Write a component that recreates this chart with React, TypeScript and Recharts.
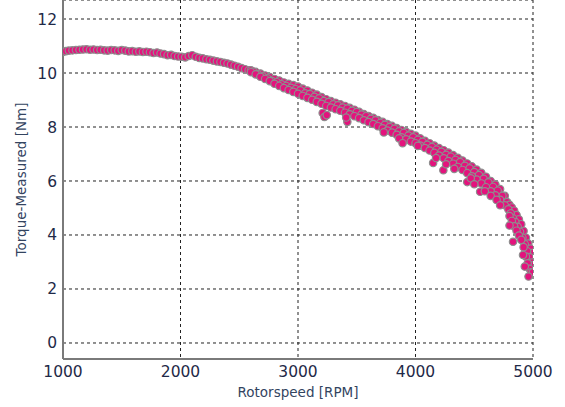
import React from 'react';
import { ScatterChart, Scatter, XAxis, YAxis, CartesianGrid } from 'recharts';

// Low-speed run (single row of measurements)
const lowSpeedRun: [number, number][] = [
  [1000, 10.78], [1025, 10.81], [1050, 10.83], [1080, 10.84], [1110, 10.85], [1140, 10.86],
  [1170, 10.87], [1200, 10.88], [1230, 10.86], [1260, 10.87], [1290, 10.85], [1320, 10.86],
  [1350, 10.84], [1380, 10.83], [1410, 10.85], [1440, 10.84], [1470, 10.82], [1500, 10.85],
  [1530, 10.83], [1560, 10.80], [1590, 10.81], [1620, 10.79], [1650, 10.80], [1680, 10.78],
  [1710, 10.79], [1740, 10.77], [1770, 10.74], [1800, 10.76], [1830, 10.72], [1860, 10.70],
  [1890, 10.66], [1920, 10.67], [1950, 10.63], [1980, 10.61], [2010, 10.60], [2040, 10.58],
  [2070, 10.63], [2100, 10.66], [2130, 10.60], [2160, 10.56], [2190, 10.54], [2220, 10.51],
  [2250, 10.49], [2280, 10.46], [2310, 10.43], [2340, 10.41], [2370, 10.38], [2400, 10.35],
  [2430, 10.31], [2460, 10.27], [2490, 10.23], [2520, 10.18], [2550, 10.14], [2580, 10.10],
];

// Dense band: rpm grid with upper and lower edge of the measurement cloud
const bandRpm = [
  2600, 2640, 2680, 2720, 2760, 2800, 2840, 2880, 2920, 2960, 3000, 3040, 3080, 3120,
  3160, 3200, 3240, 3280, 3320, 3360, 3400, 3440, 3480, 3520, 3560, 3600, 3640, 3680,
  3720, 3760, 3800, 3840, 3880, 3920, 3960, 4000, 4040, 4080, 4120, 4160, 4200, 4240,
  4280, 4320, 4360, 4400, 4440, 4480, 4520, 4560, 4600, 4640, 4680, 4720, 4760,
];
const bandUpper = [
  10.10, 10.04, 9.98, 9.91, 9.85, 9.78, 9.72, 9.65, 9.60, 9.55, 9.50, 9.42, 9.35, 9.27,
  9.20, 9.11, 9.03, 8.96, 8.90, 8.84, 8.78, 8.71, 8.64, 8.56, 8.48, 8.41, 8.34, 8.26,
  8.19, 8.11, 8.04, 7.96, 7.89, 7.82, 7.75, 7.68, 7.58, 7.49, 7.40, 7.31, 7.22, 7.14,
  7.05, 6.96, 6.86, 6.76, 6.65, 6.54, 6.42, 6.30, 6.16, 6.00, 5.87, 5.70, 5.45,
];
const bandLower = [
  10.03, 9.95, 9.86, 9.78, 9.70, 9.60, 9.52, 9.44, 9.37, 9.30, 9.23, 9.15, 9.08, 9.01,
  8.93, 8.86, 8.78, 8.72, 8.66, 8.60, 8.53, 8.47, 8.40, 8.33, 8.25, 8.18, 8.11, 8.03,
  7.95, 7.87, 7.79, 7.71, 7.62, 7.54, 7.46, 7.40, 7.31, 7.22, 7.13, 7.04, 6.94, 6.84,
  6.74, 6.64, 6.52, 6.41, 6.29, 6.17, 6.05, 5.91, 5.77, 5.62, 5.47, 5.30, 5.10,
];
// Middle of the cloud, sampled between the grid speeds
const bandMidRpm = [
  2620, 2660, 2700, 2740, 2780, 2820, 2860, 2900, 2940, 2980, 3020, 3060, 3100, 3140,
  3180, 3220, 3260, 3300, 3340, 3380, 3420, 3460, 3500, 3540, 3580, 3620, 3660, 3700,
  3740, 3780, 3820, 3860, 3900, 3940, 3980, 4020, 4060, 4100, 4140, 4180, 4220, 4260,
  4300, 4340, 4380, 4420, 4460, 4500, 4540, 4580, 4620, 4660, 4700, 4740,
];
const bandMid = [
  10.05, 9.95, 9.88, 9.80, 9.70, 9.66, 9.58, 9.52, 9.45, 9.40, 9.36, 9.25, 9.22, 9.12,
  9.06, 8.96, 8.92, 8.84, 8.80, 8.72, 8.68, 8.60, 8.55, 8.46, 8.40, 8.30, 8.25, 8.15,
  8.08, 8.00, 7.93, 7.84, 7.78, 7.68, 7.62, 7.52, 7.45, 7.34, 7.26, 7.16, 7.08, 6.97,
  6.90, 6.78, 6.70, 6.56, 6.47, 6.33, 6.22, 6.08, 5.95, 5.78, 5.64, 5.45,
];

// Steep tail near maximum speed
const tailUpper: [number, number][] = [
  [4780, 5.22], [4800, 5.12], [4820, 5.02], [4840, 4.90], [4860, 4.74], [4880, 4.58],
  [4900, 4.40], [4920, 4.15], [4940, 3.90], [4960, 3.68], [4980, 3.50], [5000, 3.34],
];
const tailMid: [number, number][] = [
  [4790, 4.95], [4810, 4.80], [4830, 4.62], [4850, 4.48], [4870, 4.30], [4890, 4.12],
  [4910, 3.90], [4930, 3.66], [4950, 3.40], [4970, 3.18], [4990, 2.98], [5000, 2.88],
];
const tailLower: [number, number][] = [
  [4800, 4.70], [4820, 4.52], [4840, 4.32], [4860, 4.16], [4880, 3.98], [4900, 3.82],
  [4920, 3.55], [4940, 3.20], [4955, 2.95], [4970, 2.75], [4985, 2.62], [5000, 2.62], [4962, 2.46],
];

// Scattered low readings
const outliers: [number, number][] = [
  [3210, 8.52], [3225, 8.37], [3245, 8.44], [3420, 8.19], [3410, 8.35], [3730, 7.80],
  [3860, 7.58], [3890, 7.40], [4020, 7.30], [4150, 6.67], [4175, 6.85], [4237, 6.40],
  [4260, 6.62], [4330, 6.45], [4440, 5.96], [4470, 6.10], [4500, 5.88], [4550, 5.60],
  [4590, 5.62], [4640, 5.45], [4690, 5.30], [4720, 5.10], [4800, 4.35], [4830, 3.75],
  [4915, 3.26], [4930, 2.83],
];

const xTicks = [1000, 2000, 3000, 4000, 5000];
const yTicks = [0, 2, 4, 6, 8, 10, 12];

const toPoints = (pairs: [number, number][]) => pairs.map(([x, y]) => ({ x, y }));
const zipPoints = (xs: number[], ys: number[]) => xs.map((x, i) => ({ x, y: ys[i] }));

const FILL = '#e3137d';
const EDGE = '#8e8e8e';
const Dot = (props: any) => {
  const { cx, cy } = props;
  if (cx == null || cy == null) return null;
  return <circle cx={cx} cy={cy} r={3.7} fill={FILL} stroke={EDGE} strokeWidth={1.2} />;
};

const tickStyle = { fontFamily: 'DejaVu Sans', fontSize: 15.5, fill: '#1f2a48' };
const titleStyle = { fontFamily: 'DejaVu Sans', fontSize: 13.5, fill: '#33445f' };

export default function App() {
  return (
    <div style={{ position: 'absolute', left: 0, top: 0, width: 565, height: 407, background: '#fff' }}>
      <ScatterChart width={565} height={407} margin={{ top: 0, right: 32, left: 0, bottom: 0 }}>
        <CartesianGrid stroke="#222" strokeDasharray="3 3" strokeWidth={1} />
        <XAxis
          type="number"
          dataKey="x"
          domain={[1000, 5000]}
          ticks={xTicks}
          allowDataOverflow
          height={48}
          tickLine={false}
          tickMargin={1}
          axisLine={{ stroke: '#7a7a7a', strokeWidth: 2 }}
          tick={tickStyle}
          label={{ value: 'Rotorspeed [RPM]', position: 'insideBottom', offset: 10, style: titleStyle }}
        />
        <YAxis
          type="number"
          dataKey="y"
          domain={[-0.593, 12.704]}
          ticks={yTicks}
          allowDataOverflow
          width={63}
          tickLine={false}
          tickMargin={0}
          axisLine={{ stroke: '#7a7a7a', strokeWidth: 2 }}
          tick={tickStyle}
          label={{
            value: 'Torque-Measured [Nm]',
            angle: -90,
            position: 'insideLeft',
            offset: 21,
            style: { ...titleStyle, textAnchor: 'middle' },
          }}
        />
        <Scatter data={toPoints(lowSpeedRun)} shape={Dot} isAnimationActive={false} />
        <Scatter data={zipPoints(bandRpm, bandUpper)} shape={Dot} isAnimationActive={false} />
        <Scatter data={toPoints(tailUpper)} shape={Dot} isAnimationActive={false} />
        <Scatter data={zipPoints(bandMidRpm, bandMid)} shape={Dot} isAnimationActive={false} />
        <Scatter data={zipPoints(bandRpm, bandLower)} shape={Dot} isAnimationActive={false} />
        <Scatter data={toPoints(tailMid)} shape={Dot} isAnimationActive={false} />
        <Scatter data={toPoints(tailLower)} shape={Dot} isAnimationActive={false} />
        <Scatter data={toPoints(outliers)} shape={Dot} isAnimationActive={false} />
      </ScatterChart>
    </div>
  );
}
